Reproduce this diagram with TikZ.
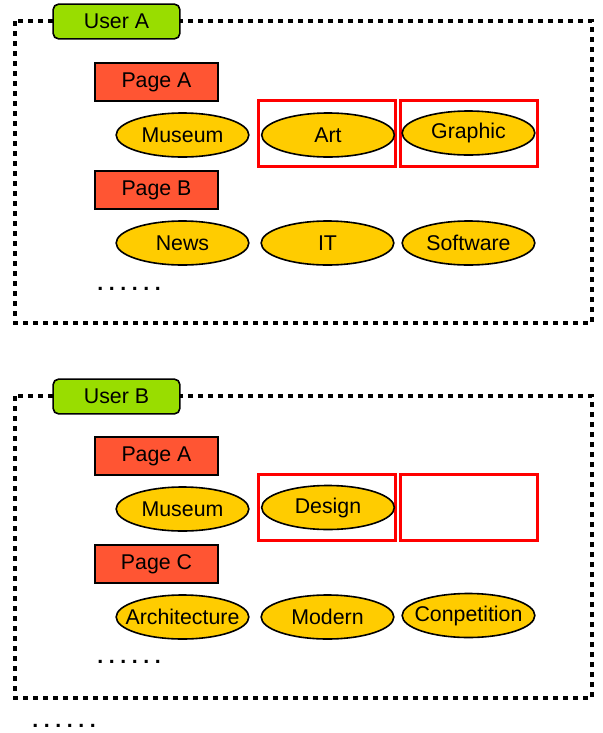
\documentclass[tikz,border=0pt]{standalone}
\usepackage{fontspec}
\setmainfont{Liberation Sans}
\usetikzlibrary{shapes.geometric}
\definecolor{tabgreen}{HTML}{99DD00}
\definecolor{pagered}{HTML}{FF5533}
\definecolor{gold}{HTML}{FFCC00}
\definecolor{boxred}{HTML}{FF0000}
\newcommand\sixdots{.\kern4.2pt.\kern4.2pt.\kern4.2pt.\kern4.2pt.\kern4.2pt.}
\begin{document}
\begin{tikzpicture}[x=0.75pt,y=-0.75pt,
  every node/.style={font=\fontsize{16}{18}\selectfont},
  frame/.style={draw=black,line width=3pt,dash pattern=on 3.75pt off 3.75pt},
  usertab/.style={draw=black,line width=1.2pt,fill=tabgreen,rounded corners=4pt,minimum width=95pt,minimum height=26pt,inner sep=0pt},
  pagebox/.style={draw=black,line width=1.2pt,fill=pagered,minimum width=92pt,minimum height=28.5pt,inner sep=0pt},
  tag/.style={ellipse,draw=black,line width=1.2pt,fill=gold,minimum width=99.5pt,minimum height=33pt,inner sep=0pt,label={center:#1}},
  hilite/.style={draw=boxred,line width=2.4pt,minimum width=103pt,minimum height=50pt,inner sep=0pt},
  dotsnode/.style={font=\fontsize{16}{18}\bfseries\selectfont,inner sep=0pt}]
\useasboundingbox (0,0) rectangle (603,733);
% ---------- User A ----------
\draw[frame] (15,21) rectangle (592,323);
\node[usertab] (ua) at (116.5,21.5) {User A};
\node[pagebox] (pa1) at (156.5,82) {Page A};
\node[hilite] (h1) at (327,133.5) {};
\node[hilite] (h2) at (469,133.5) {};
\node[tag=Museum] (museum1) at (182.5,135) {};
\node[tag=Art] (art) at (328,135) {};
\node[tag=Graphic] (graphic) at (468.5,133) {};
\node[pagebox] (pb) at (156.5,190) {Page B};
\node[tag=News] (news) at (182.5,243) {};
\node[tag=IT] (it) at (327.5,243) {};
\node[tag=Software] (software) at (468.5,243) {};
\node[dotsnode,anchor=base west] (d1) at (97,290) {\sixdots};
% ---------- User B ----------
\draw[frame] (15,396) rectangle (592,698);
\node[usertab] (ub) at (116.5,396.5) {User B};
\node[pagebox] (pa2) at (156.5,456) {Page A};
\node[hilite] (h3) at (327,507.5) {};
\node[hilite] (h4) at (469,507.5) {};
\node[tag=Museum] (museum2) at (182.5,509) {};
\node[tag=Design] (design) at (328,507.5) {};
\node[pagebox] (pc) at (156.5,564) {Page C};
\node[tag=Architecture] (arch) at (182.5,617) {};
\node[tag=Modern] (modern) at (327.5,617) {};
\node[tag=Conpetition] (comp) at (468.5,615.5) {};
\node[dotsnode,anchor=base west] (d2) at (97,663) {\sixdots};
\node[dotsnode,anchor=base west] (d3) at (32,727) {\sixdots};
\end{tikzpicture}
\end{document}
